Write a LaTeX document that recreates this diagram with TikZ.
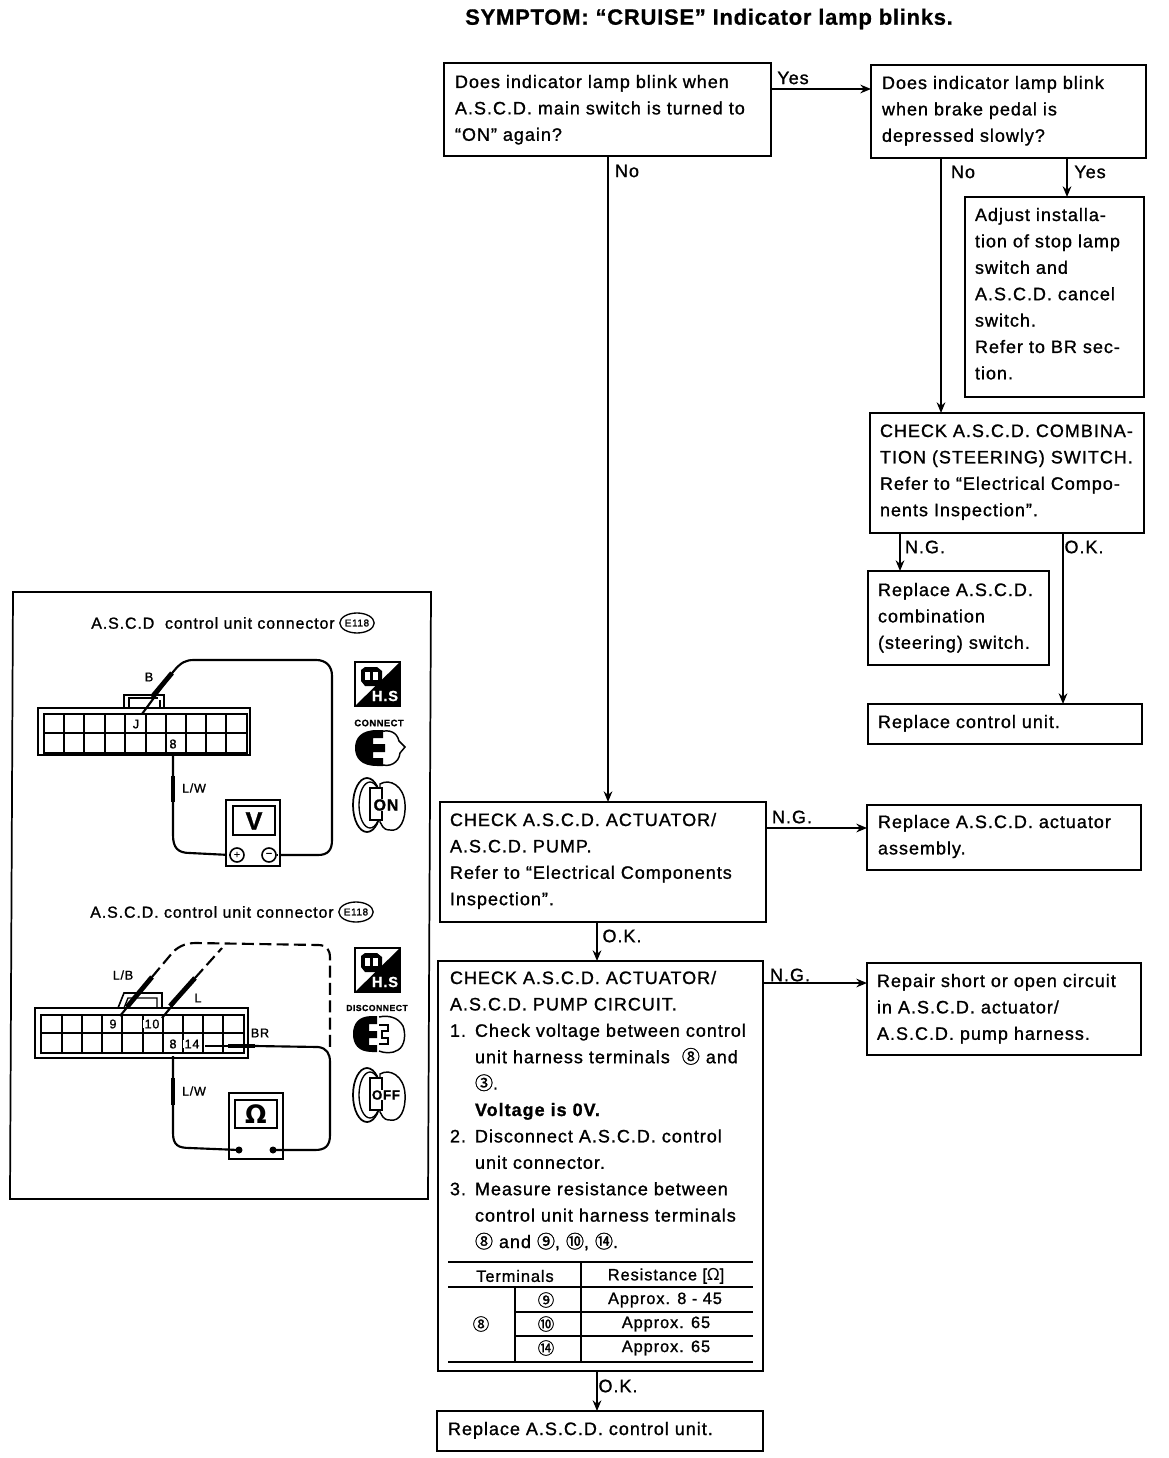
\documentclass[tikz,border=0pt]{standalone}
\usepackage{fontspec}
\setmainfont[LetterSpace=5.5,FakeBold=1.1]{Liberation Sans}
\newfontfamily\djv{DejaVu Sans}
\newfontfamily\cnf[FakeBold=1.2]{Noto Sans CJK JP}
\newfontfamily\hdr[LetterSpace=3,FakeBold=0.6]{Liberation Sans}
\usetikzlibrary{arrows.meta,shapes.geometric}
\newcommand{\cn}[1]{{\cnf #1}}
\newcommand{\pxd}[1]{\dimexpr 0.75pt*#1\relax}
\newcommand{\num}[1]{\makebox[\pxd{25}][l]{#1}}
\newcommand{\ind}{\hspace*{\pxd{25}}}
\tikzset{
  bx/.style={draw=black,line width=1.5pt,inner sep=0pt,outer sep=0pt,anchor=north west,fill=white,
    font=\fontsize{13.5}{19.8}\selectfont},
  arr/.style={line width=1.3pt,-{Stealth[length=8pt,width=6.5pt]}},
  lbl/.style={inner sep=0pt,font=\fontsize{13.5}{16}\selectfont},
  smalltxt/.style={inner sep=0pt,font=\fontsize{9.5}{11}\selectfont},
  captxt/.style={inner sep=0pt,font=\fontsize{12}{13}\selectfont},
  tcell/.style={inner sep=0pt,font=\fontsize{12.3}{13}\selectfont},
  wire/.style={line width=1.6pt,line join=round},
  probe/.style={line width=3.6pt},
  cgrid/.style={line width=1pt},
  tline/.style={line width=.8pt},
  trule/.style={line width=2pt}
}
\newcommand{\bxn}[8]{%
  \pgfmathsetlengthmacro\bw{(#4-#2)*0.75pt}%
  \pgfmathsetlengthmacro\bh{(#5-#3)*0.75pt}%
  \node[bx] (#1) at (#2,#3) {\parbox[c][\bh][t]{\bw}{\raggedright\leftskip=\pxd{#6}\baselineskip=19.8pt\rule{0pt}{\pxd{#7}}#8}};}
% icons, origin = top left
\newcommand{\hsicon}[3]{%
  \begin{scope}[shift={(#1,#2)}]
    \draw[line width=1pt] (0,0) rectangle (45,44);
    \fill (45,0) -- (45,44) -- (0,44) -- cycle;
    \fill (6,8) -- (10,5) -- (22,5) -- (27,9) -- (27,19) -- (21,24) -- (10,24) -- (6,19) -- cycle;
    \fill[white] (10,10) rectangle (15,18);
    \fill[white] (18,10) rectangle (23,18);
    \node[inner sep=0pt,text=white,font=\fontsize{11}{12}\selectfont\bfseries] (#3) at (30,34) {H.S};
  \end{scope}}
\newcommand{\plugicon}[3]{%
  \begin{scope}[shift={(#1,#2)}]
    \draw[line width=1.1pt,fill=white] (27,2) .. controls (36,-1) and (44,2) .. (46,11) -- (52,17) -- (47,23)
      .. controls (46,33) and (36,38) .. (27,34);
    \fill (24,0) .. controls (8,0) and (2,8) .. (2,18) .. controls (2,28) and (8,36) .. (24,36)
      -- (30,36) -- (30,28) -- (20,28) -- (20,22) -- (32,22) -- (32,14) -- (20,14) -- (20,8) -- (30,8) -- (30,0) -- cycle;
    \coordinate (#3) at (26,18);
  \end{scope}}
\newcommand{\keyicon}[4]{%
  \begin{scope}[shift={(#1,#2)}]
    \draw[line width=1.3pt,fill=white] (15,27) ellipse (14 and 27);
    \draw[line width=1pt] (18,27) ellipse (11 and 23);
    \draw[line width=1.1pt,fill=white] (28,6) .. controls (38,0) and (52,8) .. (53,26)
      .. controls (54,42) and (48,54) .. (38,52) .. controls (30,52) and (30,46) .. (28,44) -- cycle;
    \draw[line width=1.5pt,fill=white] (18,10) rectangle (30,42);
    \node[inner sep=0pt,fill=white,font=\fontsize{#4}{11}\selectfont\bfseries] (#3) at (34,27) {\ifnum#4>11 ON\else OFF\fi};
  \end{scope}}
\begin{document}
\begin{tikzpicture}[x=0.75pt,y=-0.75pt]
\useasboundingbox (0,0) rectangle (1168,1458);
\fill[white] (0,0) rectangle (1168,1458);
% guide coordinates for connectors
\coordinate (c1) at (608,0);
\coordinate (c2) at (941,0);
\coordinate (c3) at (1067,0);
\coordinate (c4) at (900,0);
\coordinate (c5) at (1063,0);
\coordinate (c6) at (597,0);
\coordinate (r1) at (0,89);
\coordinate (r2) at (0,828);
\coordinate (r3) at (0,983);
% title
\node[inner sep=0pt,font={\fontsize{16.6}{18}\selectfont\bfseries\hdr}] (title) at (709,19) {SYMPTOM: “CRUISE” Indicator lamp blinks.};
% boxes
\bxn{q1}{444}{63}{771}{156}{11}{25}{Does indicator lamp blink when\\A.S.C.D. main switch is turned to\\“ON” again?}
\bxn{q2}{871}{65}{1146}{158}{11}{24}{Does indicator lamp blink\\when brake pedal is\\depressed slowly?}
\bxn{adj}{965}{197}{1144}{397}{10}{24}{Adjust installa-\\tion of stop lamp\\switch and\\A.S.C.D. cancel\\switch.\\Refer to BR sec-\\tion.}
\bxn{chk}{870}{413}{1144}{533}{10}{24}{CHECK A.S.C.D. COMBINA-\\TION (STEERING) SWITCH.\\Refer to “Electrical Compo-\\nents Inspection”.}
\bxn{comb}{868}{571}{1049}{665}{10}{25}{Replace A.S.C.D.\\combination\\(steering) switch.}
\bxn{ctrl}{868}{704}{1142}{744}{10}{24}{Replace control unit.}
\bxn{act}{440}{802}{766}{922}{10}{24}{CHECK A.S.C.D. ACTUATOR/\\A.S.C.D. PUMP.\\Refer to “Electrical Components\\Inspection”.}
\bxn{ract}{867}{805}{1141}{870}{11}{23}{Replace A.S.C.D. actuator\\assembly.}
\bxn{circ}{438}{961}{763}{1371}{12}{23}{CHECK A.S.C.D. ACTUATOR/\\A.S.C.D. PUMP CIRCUIT.\\\num{1.}Check voltage between control\\\ind unit harness terminals \ \cn{⑧} and\\\ind\cn{③}.\\\ind{\bfseries Voltage is 0V.}\\\num{2.}Disconnect A.S.C.D. control\\\ind unit connector.\\\num{3.}Measure resistance between\\\ind control unit harness terminals\\\ind\cn{⑧} and \cn{⑨}, \cn{⑩}, \cn{⑭}.}
\bxn{rsh}{867}{963}{1141}{1055}{10}{24}{Repair short or open circuit\\in A.S.C.D. actuator/\\A.S.C.D. pump harness.}
\bxn{unit}{437}{1411}{763}{1451}{11}{24}{Replace A.S.C.D. control unit.}
% connectors
\draw[arr] (q1.east |- r1) -- (q2.west |- r1);
\node[lbl] (l1) at (793,78) {Yes};
\draw[arr] (q1.south -| c1) -- (act.north -| c1);
\node[lbl] (l2) at (627,171) {No};
\draw[arr] (q2.south -| c2) -- (chk.north -| c2);
\node[lbl] (l3) at (963,172) {No};
\draw[arr] (q2.south -| c3) -- (adj.north -| c3);
\node[lbl] (l4) at (1090,172) {Yes};
\draw[arr] (chk.south -| c4) -- (comb.north -| c4);
\node[lbl] (l5) at (925,547) {N.G.};
\draw[arr] (chk.south -| c5) -- (ctrl.north -| c5);
\node[lbl] (l6) at (1084,547) {O.K.};
\draw[arr] (act.east |- r2) -- (ract.west |- r2);
\node[lbl] (l7) at (792,817) {N.G.};
\draw[arr] (act.south -| c6) -- (circ.north -| c6);
\node[lbl] (l8) at (622,936) {O.K.};
\draw[arr] (circ.east |- r3) -- (rsh.west |- r3);
\node[lbl] (l9) at (790,975) {N.G.};
\draw[arr] (circ.south -| c6) -- (unit.north -| c6);
\node[lbl] (l10) at (618,1386) {O.K.};
% table
\draw[trule] (448,1262) -- (753,1262);
\draw[tline] (448,1287) -- (753,1287);
\draw[tline] (515,1312) -- (753,1312);
\draw[tline] (515,1336) -- (753,1336);
\draw[trule] (448,1362) -- (753,1362);
\draw[tline] (581,1262) -- (581,1362);
\draw[tline] (515,1287) -- (515,1362);
\node[tcell] (t1) at (515,1276) {Terminals};
\node[tcell] (t2) at (666,1276) {Resistance [{\djv Ω}]};
\node[tcell] (t3) at (481,1324) {\cn{⑧}};
\node[tcell] (t4) at (546,1300) {\cn{⑨}};
\node[tcell] (t5) at (665,1300) {Approx. 8 - 45};
\node[tcell] (t6) at (546,1324) {\cn{⑩}};
\node[tcell] (t7) at (666,1324) {Approx. 65};
\node[tcell] (t8) at (546,1348) {\cn{⑭}};
\node[tcell] (t9) at (666,1348) {Approx. 65};
% left panel
\draw[line width=1.3pt] (13,592) -- (431,592) -- (428,1199) -- (10,1199) -- cycle;
\node[captxt,anchor=west] (p1) at (91,623) {A.S.C.D \ control unit connector};
\node[draw,ellipse,line width=1pt,inner xsep=0pt,inner ysep=0pt,minimum width=22pt,minimum height=15pt,font=\fontsize{7.5}{8}\selectfont] (p1b) at (357,623) {E118};
\node[captxt,anchor=west] (p2) at (90,912) {A.S.C.D. control unit connector};
\node[draw,ellipse,line width=1pt,inner xsep=0pt,inner ysep=0pt,minimum width=22pt,minimum height=15pt,font=\fontsize{7.5}{8}\selectfont] (p2b) at (356,912) {E118};
% upper connector
\draw[line width=1.2pt] (124,708) -- (124,695) -- (164,695) -- (164,708);
\draw[line width=1pt] (129,708) -- (129,698) -- (158,698);
\draw[line width=1pt] (153,708) -- (160,708) -- (160,700);
\fill[white] (38,708) rectangle (250,755);
\draw[line width=1.2pt] (38,708) rectangle (250,755);
\draw[line width=1.4pt] (44,714) rectangle (247,753);
\draw[cgrid] (44,733) -- (247,733);
\foreach \x in {64,84,105,125,146,166,186,206,226} \draw[cgrid] (\x,714) -- (\x,753);
\node[smalltxt,fill=white,inner xsep=1pt] (u1) at (136,724) {J};
\node[smalltxt,fill=white,inner xsep=1pt] (u2) at (173,744) {8};
\node[smalltxt] (u3) at (149,677) {B};
\node[smalltxt] (u4) at (194,788) {L/W};
\draw[wire] (142,714) -- (173,672) .. controls (181,662) and (186,660) .. (194,660) -- (316,660) .. controls (326,660) and (332,666) .. (332,676) -- (332,840) .. controls (332,850) and (328,855) .. (318,855) -- (277,855);
\draw[probe] (152,697) -- (172,673);
\draw[wire] (173,752) -- (173,835) .. controls (173,848) and (178,853) .. (190,853) -- (230,855);
\draw[probe] (173,776) -- (173,802);
\draw[line width=1.2pt,fill=white] (226,800) rectangle (280,866);
\draw[line width=1.4pt] (233,806) rectangle (275,835);
\node[inner sep=0pt,font=\fontsize{19}{20}\selectfont\bfseries] (um) at (254,821) {V};
\node[draw,circle,line width=1.2pt,minimum size=10.5pt,inner sep=0pt,font=\fontsize{8}{8}\selectfont] (up) at (237,855) {+};
\node[draw,circle,line width=1.2pt,minimum size=10.5pt,inner sep=0pt,font=\fontsize{8}{8}\selectfont] (un) at (269,855) {−};
\draw[wire] (230,855) -- (up.west);
\draw[wire] (un.east) -- (277,855);
\hsicon{355}{662}{h1}
\node[inner sep=0pt,font=\fontsize{7}{8}\selectfont\bfseries] (c1l) at (379,723) {CONNECT};
\plugicon{353}{730}{g1}
\keyicon{352}{778}{k1}{12}
% lower connector
\draw[line width=1.2pt] (118,1008) -- (124,993) -- (162,993) -- (162,1008);
\draw[line width=1pt] (124,1008) -- (128,998) -- (157,998) -- (157,1008);
\fill[white] (35,1008) rectangle (248,1058);
\draw[line width=1.2pt] (35,1008) rectangle (248,1058);
\draw[line width=1.4pt] (41,1015) rectangle (244,1053);
\draw[cgrid] (41,1033) -- (244,1033);
\foreach \x in {62,82,102,122,143,163,183,203,223} \draw[cgrid] (\x,1015) -- (\x,1053);
\node[smalltxt,fill=white,inner xsep=1pt] (v1) at (113,1024) {9};
\node[smalltxt,fill=white,inner xsep=1pt] (v2) at (152,1024) {10};
\node[smalltxt,fill=white,inner xsep=1pt] (v3) at (173,1044) {8};
\node[smalltxt,fill=white,inner xsep=1pt] (v4) at (192,1044) {14};
\node[smalltxt] (v5) at (260,1033) {BR};
\node[smalltxt] (v6) at (123,975) {L/B};
\node[smalltxt] (v7) at (198,998) {L};
\node[smalltxt] (v8) at (194,1091) {L/W};
\draw[wire] (120,1016) -- (152,977);
\draw[probe] (127,1007) -- (152,977);
\draw[wire,dashed,dash pattern=on 9pt off 4pt] (152,977) -- (173,952) .. controls (180,945) and (188,943) .. (196,943) -- (318,945) .. controls (327,945) and (330,950) .. (330,958) -- (330,1052);
\draw[wire] (162,1018) -- (195,978);
\draw[probe] (170,1006) -- (195,978);
\draw[wire,dashed,dash pattern=on 9pt off 4pt] (195,978) -- (222,948);
\draw[line width=1pt] (205,1046) -- (228,1046);
\draw[probe] (228,1046) -- (255,1046);
\draw[wire] (255,1046) -- (318,1047) .. controls (327,1048) and (330,1054) .. (330,1062) -- (330,1135) .. controls (330,1146) and (325,1150) .. (315,1150) -- (273,1150);
\draw[wire] (173,1056) -- (173,1133) .. controls (173,1145) and (178,1148) .. (190,1148) -- (239,1150);
\draw[probe] (173,1078) -- (173,1105);
\draw[line width=1.2pt] (229,1093) rectangle (283,1159);
\draw[line width=1.4pt] (235,1100) rectangle (277,1128);
\node[inner sep=0pt,font=\fontsize{19}{20}\selectfont\bfseries\djv] (vm) at (256,1114) {Ω};
\fill (239,1150) circle (3.5);
\fill (273,1150) circle (3.5);
\hsicon{355}{948}{h2}
\node[inner sep=0pt,font=\fontsize{6.5}{8}\selectfont\bfseries] (c2l) at (377,1008) {DISCONNECT};
\begin{scope}[shift={(352,1016)}]
  \draw[line width=1.1pt] (27,1) .. controls (36,-1) and (46,1) .. (51,10) .. controls (54,18) and (53,30) .. (46,34) .. controls (40,38) and (32,37) .. (27,35);
  \draw[line width=1.1pt] (27,9) -- (36,9) -- (36,15) -- (30,15) -- (30,22) -- (36,22) -- (36,28) -- (27,28);
  \fill (20,0) .. controls (6,0) and (1,8) .. (1,18) .. controls (1,28) and (6,36) .. (20,36) -- (25,36) -- (25,29) -- (17,29) -- (17,22) -- (25,22) -- (25,15) -- (17,15) -- (17,8) -- (25,8) -- (25,0) -- cycle;
  \coordinate (g2) at (26,18);
\end{scope}
\keyicon{352}{1068}{k2}{10}
\end{tikzpicture}
\end{document}
